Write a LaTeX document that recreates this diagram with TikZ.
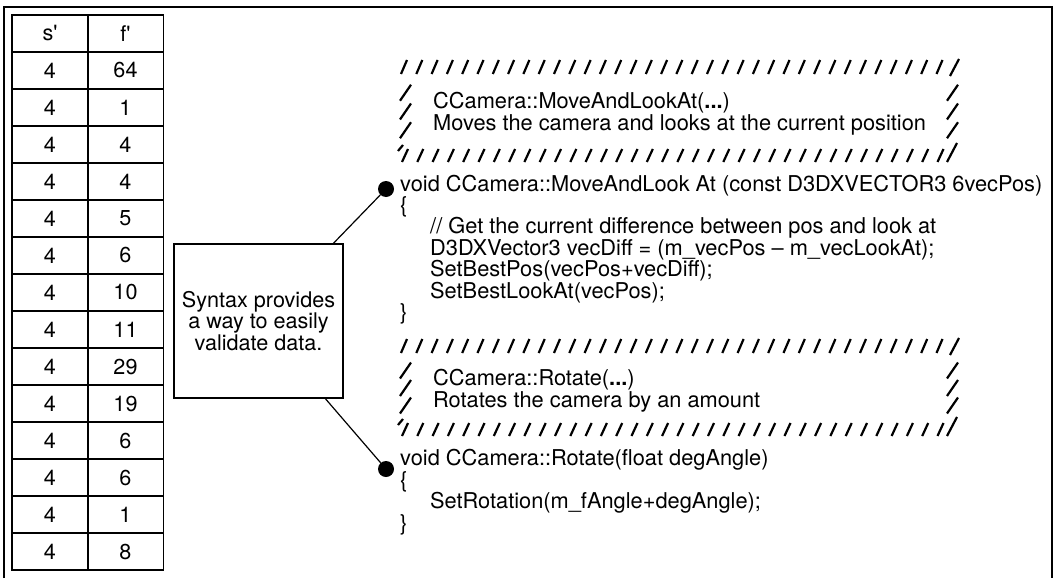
\documentclass[tikz,border=0pt]{standalone}
\usepackage{fontspec}
\setmainfont{TeX Gyre Heros}
\usetikzlibrary{positioning}

\begin{document}
\begin{tikzpicture}[x=1pt, y=-1pt,
			cell/.style={rectangle, draw, line width=1.4pt, minimum width=76pt, minimum height=37pt, inner sep=0pt, font=\fontsize{21.6}{22}\selectfont},
			note/.style={rectangle, draw, line width=1.4pt, minimum width=169pt, minimum height=154pt, align=center, font=\fontsize{21.6}{21.8}\selectfont},
			codetext/.style={anchor=base west, inner sep=0pt, align=left, font=\fontsize{21.8}{21.4}\selectfont},
			joint/.style={circle, fill, minimum size=16pt, inner sep=0pt},
			hatch/.style={line width=2.2pt},
			link/.style={line width=1.2pt}
			]
			\useasboundingbox (0,0) rectangle (1054,578);
			\draw[line width=1.6pt] (4,578) -- (4,7) -- (1052,7) -- (1052,578);
			% table
			\node[cell] (s0) at (50,33.5) {s\textquotesingle};
			\node[cell] (f0) at (125.5,33.5) {f\textquotesingle};
			\foreach \f [count=\r] in {64,1,4,4,5,6,10,11,29,19,6,6,1,8} {
				\node[cell] (s\r) at (50,33.5+37*\r) {4};
				\node[cell] (f\r) at (125.5,33.5+37*\r) {\f};
			}
			% note box and links
			\node[note] (syntax) at (258.5,321) {Syntax provides\\a way to easily\\validate data.};
			\node[joint] (dotA) at (386,189) {};
			\node[joint] (dotB) at (386,469) {};
			\draw[link] (syntax) -- (dotA);
			\draw[link] (syntax) -- (dotB);
			% hatched comment frames
			\foreach \ya/\yb in {60/149, 339/423} {
				\foreach \x in {401,416.3,...,945} {
					\draw[hatch] (\x,\ya+14) -- (\x+6,\ya);
					\draw[hatch] (\x+1,\yb+13) -- (\x+7,\yb);
				}
				\draw[hatch] (950,\ya+16) -- (959,\ya-1);
				\draw[hatch] (947,\yb+13) -- (957,\yb-6);
				\draw[hatch] (398,\yb+2) -- (403,\yb-4);
				\foreach \k in {1,2,3} {
					\pgfmathsetmacro{\yc}{\ya+14+\k*(\yb-\ya-14)/4}
					\draw[hatch] (400,\yc+8) -- (411,\yc-8);
					\draw[hatch] (947,\yc+8) -- (958,\yc-8);
				}
			}
			% comment texts (anchored at the last baseline)
			\node[codetext] (noteA) at (433,130) {CCamera::MoveAndLookAt(\textbf{...})\\Moves the camera and looks at the current position};
			\node[codetext] (noteB) at (433,407) {CCamera::Rotate(\textbf{...})\\Rotates the camera by an amount};
			% code
			\node[codetext] (codeA) at (400,319.4) {void CCamera::MoveAndLook At (const D3DXVECTOR3 6vecPos)\\
				\{\\
				\hspace*{30pt}// Get the current difference between pos and look at\\
				\hspace*{30pt}D3DXVector3 vecDiff = (m\_vecPos -- m\_vecLookAt);\\
				\hspace*{30pt}SetBestPos(vecPos+vecDiff);\\
				\hspace*{30pt}SetBestLookAt(vecPos);\\
				\}};
			\node[codetext] (codeB) at (400,530) {void CCamera::Rotate(float degAngle)\\
				\{\\
				\hspace*{30pt}SetRotation(m\_fAngle+degAngle);\\
				\}};
		\end{tikzpicture}
\end{document}
